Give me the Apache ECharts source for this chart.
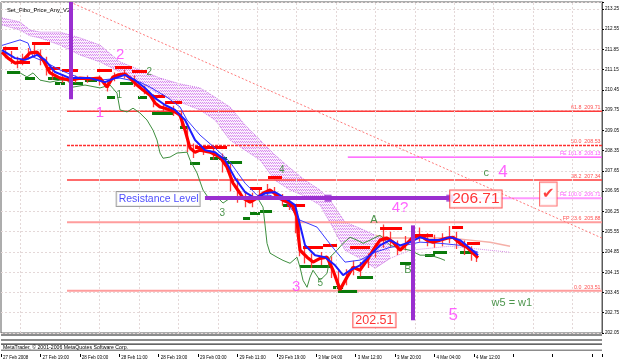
<!DOCTYPE html>
<html><head><meta charset="utf-8">
<script src="https://cdn.jsdelivr.net/npm/echarts@6/dist/echarts.min.js"></script>
<style>html,body{margin:0;padding:0;background:#fff}#c{width:625px;height:363px}</style>
</head><body><div id="c"></div>
<script>
// ---------- DATA (x = trading hours from 27 Feb 19:00, y = price) ----------
const xTickLabels = ["27 Feb 2008","27 Feb 19:00","28 Feb 03:00","28 Feb 11:00","28 Feb 19:00","29 Feb 03:00","29 Feb 11:00","29 Feb 19:00","3 Mar 04:00","3 Mar 12:00","3 Mar 20:00","4 Mar 04:00","4 Mar 12:00"];
const yTickStart = 202.05, yTickStep = 0.70, yTop = 213.49;
const xStart = -8, xStep = 8, xEnd = 114;

const pricePath = [[-7.8,211.76],[-6.58,211.55],[-5.16,211.38],[-4.14,211.41],[-3.13,211.55],[-2.11,211.73],[-0.69,211.76],[0.53,211.49],[1.95,211.04],[3.98,210.86],[6.01,210.79],[8.04,210.86],[10.07,210.83],[12.10,210.86],[13.52,210.55],[14.74,210.90],[15.75,210.97],[17.17,211.0],[18.19,210.86],[19.61,210.62],[20.83,210.45],[22.25,210.27],[23.27,210.0],[24.28,209.86],[25.30,209.82],[26.31,209.76],[27.33,209.69],[28.34,209.58],[29.36,209.06],[30.37,208.44],[31.39,208.30],[32.40,208.37],[34.43,208.30],[36.46,208.13],[37.88,207.78],[39.10,207.23],[40.52,206.88],[41.13,206.71],[42.55,206.57],[43.97,206.71],[45.19,206.88],[46.61,206.99],[48.03,206.81],[49.25,206.64],[50.67,206.54],[51.28,206.40],[52.09,206.05],[52.29,205.50],[52.70,204.91],[54.12,204.67],[55.34,204.50],[56.76,204.63],[58.18,204.67],[59.40,204.22],[60.82,203.55],[62.24,203.98],[63.46,204.32],[64.88,204.22],[66.30,204.57],[67.52,204.91],[68.94,205.26],[70.36,205.33],[71.58,205.19],[73.00,204.91],[74.42,205.15],[75.64,205.36],[77.06,205.43],[78.48,205.26],[79.70,205.19],[81.12,205.26],[82.54,205.33],[83.76,205.36],[85.18,205.15],[86.60,205.01],[87.82,204.81],[88.83,204.65]];
// bar ranges [time, high, low]
const barRanges = [[-7.2,211.95,211.55],[-6.0,211.80,211.35],[-4.8,211.60,211.20],[-3.6,211.70,211.30],[-2.4,211.90,211.50],[-1.2,212.00,211.60],[0,211.85,211.30],[1.2,211.60,210.95],[2.4,211.20,210.80],[4.5,211.0,210.7],[7,210.95,210.70],[9.5,210.95,210.70],[12,210.95,210.60],[13.5,210.75,210.40],[15,211.05,210.75],[17,211.15,210.85],[19,210.95,210.55],[21,210.60,210.30],[23,210.30,209.85],[25,210.00,209.70],[27,209.90,209.55],[28.5,209.75,209.20],[29.8,209.30,208.30],[31,208.60,208.10],[33,208.55,208.20],[35,208.45,208.05],[37,208.25,207.60],[38.5,207.90,206.95],[40,207.40,206.55],[41.5,206.95,206.40],[43,206.90,206.40],[44.5,207.05,206.65],[46,207.20,206.80],[47.5,207.10,206.65],[49,206.85,206.45],[50.5,206.75,206.30],[51.8,206.50,205.50],[52.5,205.80,204.70],[53.5,205.00,204.45],[55,204.80,204.30],[57,204.85,204.40],[59,204.70,203.95],[60.5,204.20,203.51],[62,204.25,203.70],[63.5,204.55,204.05],[65,204.50,204.00],[66.5,204.80,204.30],[68,205.15,204.65],[69.5,205.80,205.00],[71,205.55,205.00],[72.5,205.25,204.75],[74,205.40,204.90],[75.5,205.60,205.10],[77,205.70,205.20],[78.5,205.50,205.05],[80,205.45,205.00],[81.5,205.50,205.05],[83,205.75,205.15],[84.5,205.55,204.95],[86,205.25,204.75],[87.5,205.05,204.55],[88.5,204.85,204.50]];
const blueFast = [[-7.80,211.83],[-5.16,211.55],[-3.13,211.49],[-0.69,211.66],[0.93,211.49],[2.96,211.07],[6.01,210.86],[10.07,210.86],[13.11,210.72],[15.14,210.86],[17.17,210.97],[19.20,210.79],[21.23,210.52],[23.27,210.17],[25.30,209.93],[27.33,209.76],[29.36,209.41],[31.39,208.72],[33.42,208.37],[35.45,208.30],[37.48,208.03],[39.51,207.40],[41.54,206.92],[43.57,206.71],[45.60,206.88],[47.63,206.92],[49.66,206.71],[51.69,206.47],[52.70,205.78],[53.72,205.08],[55.75,204.74],[57.78,204.67],[59.81,204.39],[61.44,204.05],[62.86,204.22],[64.88,204.39],[66.91,204.74],[68.94,205.08],[70.97,205.26],[73.00,205.08],[75.03,205.19],[77.06,205.36],[79.09,205.26],[81.12,205.26],[83.15,205.36],[85.18,205.26],[87.21,204.98],[88.83,204.74]];
const blueSlow = [[-7.8,211.99],[-4.14,212.18],[-2.52,212.07],[-1.5,211.59],[0.93,211.42],[3.98,211.14],[8.04,210.86],[12.10,210.79],[16.16,210.86],[20.22,210.72],[22.25,210.55],[25.70,210.20],[28.34,209.86],[29.77,209.41],[32.40,208.89],[35.45,208.44],[38.49,207.96],[41.54,207.23],[43.97,206.81],[46.61,206.81],[50.06,206.54],[52.70,205.95],[56.15,205.71],[58.18,205.26],[59.81,204.91],[61.84,204.50],[64.88,204.57],[67.93,204.84],[70.97,205.01],[74.01,205.08],[77.06,205.19],[81.12,205.15],[85.18,205.08],[88.83,204.84]];
const chikou = [[-4.14,211.04],[-2.72,210.90],[-1.50,211.04],[-0.08,210.79],[1.95,210.72],[3.98,210.79],[5.40,210.79],[6.62,210.55],[9.05,210.62],[12.10,210.52],[14.13,210.62],[15.55,210.34],[16.16,209.76],[17.58,209.69],[18.80,209.82],[20.22,209.65],[21.64,209.41],[22.86,209.06],[23.67,208.72],[24.28,208.27],[24.89,208.09],[26.31,208.13],[27.73,208.27],[29.77,208.30],[30.37,208.03],[31.79,207.58],[33.01,206.99],[34.43,206.64],[35.85,206.75],[37.07,206.54],[38.49,206.71],[39.91,206.75],[41.13,206.71],[43.97,206.75],[45.19,206.40],[45.60,205.78],[46.00,205.15],[46.61,204.81],[48.03,204.67],[49.25,204.56],[50.67,204.46],[52.09,204.67],[52.70,204.32],[53.31,203.87],[54.12,203.63],[54.73,203.98],[55.34,204.22],[56.76,203.87],[58.18,204.11],[58.79,204.67],[60.21,204.91],[61.44,205.15],[62.86,205.36],[64.28,205.26],[65.50,205.15],[66.91,205.26],[68.94,205.43],[70.97,205.08],[73.00,204.98],[75.03,204.91],[77.06,204.74],[79.09,204.74],[81.12,204.63],[82.13,204.56]];
const cloudX = [-7.80,-4.14,-2.11,-0.08,3.98,8.04,12.10,16.16,20.22,24.28,28.34,32.40,35.45,38.49,41.54,44.58,47.63,50.67,53.72,56.76,58.79,61.84,64.88,67.93,70.97];
const cloudTop = [212.94,212.80,212.52,212.45,212.45,212.25,212.00,211.42,211.14,210.86,210.66,210.52,210.20,209.86,209.24,208.72,208.20,207.75,207.33,206.99,206.64,205.88,205.67,205.43,205.33];
const cloudBottom = [212.70,212.52,212.32,212.25,212.00,211.66,211.42,211.07,210.72,210.27,210.03,209.76,209.41,208.72,208.37,208.03,207.33,206.99,206.78,206.47,205.88,204.91,204.63,204.29,204.63];
// leading spans after the cloud thins out
const spanAX = [67.93,70.97,75.03,79.09,83.15,87.21,91.27,95.33];
const spanA = [205.43,205.33,205.33,205.33,205.33,205.26,205.19,205.05];
const spanB = [204.29,204.63,204.91,204.98,205.05,204.98,204.91,204.84];
// fractal levels [from, to, price]
const redLevels = [[-7.59,-4.55,211.90],[-1.71,1.95,212.07],[-4.55,-2.11,211.42],[1.34,3.98,211.21],[4.38,7.63,211.14],[11.49,14.53,211.14],[15.14,18.59,211.24],[18.59,21.64,211.10],[22.25,25.30,210.24],[25.30,28.75,210.03],[31.39,35.04,208.47],[35.04,37.88,208.47],[42.55,44.99,207.06],[46.20,49.04,207.44],[50.06,53.72,206.47],[53.31,57.37,205.02],[57.37,60.21,205.08],[62.86,66.91,205.02],[68.94,73.41,205.67],[75.64,79.70,205.43],[83.56,85.79,205.71],[86.60,89.24,205.15]];
const greenLevels = [[-6.78,-4.14,211.07],[-3.13,-1.10,210.86],[1.54,4.38,210.86],[2.96,4.99,210.69],[6.41,8.65,210.69],[9.05,11.49,210.79],[13.52,15.14,210.20],[16.16,18.80,210.69],[19.81,21.64,210.20],[22.66,26.92,209.65],[28.34,29.77,209.17],[30.37,32.40,207.92],[34.43,37.88,208.09],[37.07,40.93,207.96],[41.13,42.55,206.02],[42.55,44.58,206.19],[44.58,47.02,206.26],[49.25,50.67,206.47],[52.70,56.15,204.36],[56.15,58.79,204.36],[59.40,61.44,203.63],[60.41,64.28,203.51],[64.28,67.52,203.98],[73.00,75.64,204.46],[78.07,80.11,204.74],[79.70,82.54,204.84],[85.18,87.82,204.84]];
const fiboNames = ["61.8","50.0","FE 161.8","38.2","FE 100.0","FP 23.6","0.0"];
const fiboValues = [209.71,208.53,208.13,207.34,206.71,205.88,203.51];
const fiboFrom = [5.4,5.4,62.4,5.4,62.4,5.4,5.4];
const trendLine = [[6.0,213.49],[114,205.33]];
const resistanceLine = [[33.4,206.71],[83.1,206.71]];
const resistanceHandles = [[58.4,206.71],[83.1,206.71]];
const verticalMarks = [[[6.2,213.49],[6.2,210.13]],[[75.6,205.77],[75.6,202.49]]];
const waveNames = ["1","2","3","4","4?","5"];
const wavePos = [[12.1,209.65],[16.2,211.66],[51.9,203.63],[93.9,207.61],[73.0,206.36],[83.8,202.66]];
const subNames = ["1","2","3","4","5","A","B","c","w5 = w1"];
const subPos = [[16.0,210.27],[22.1,211.07],[36.9,206.19],[49.0,207.68],[56.8,203.77],[67.7,205.95],[74.6,204.22],[90.5,207.58],[95.7,203.08]];
const boxTexts = ["Resistance Level","206.71","202.51"];
const boxPos = [[23.9,206.68],[88.4,206.68],[67.8,202.49]];
const checkPos = [103.1,206.85];
const lastPrice = 204.65;

// ---------- BUILD ----------
const B = yTickStart;
const sh = p => [p[0], +(p[1]-B).toFixed(4)];
const shArr = a => a.map(sh);
const GRID = '#e4d8d8';
const FONT = 'Liberation Sans, Arial';

// hatch pattern for the cloud
const pat = document.createElement('canvas');
pat.width = 4; pat.height = 3;
(function(){
  const g = pat.getContext('2d');
  g.fillStyle = 'rgba(246,226,250,0.6)'; g.fillRect(0,0,4,3);
  g.fillStyle = '#d98cf0';
  g.fillRect(0,0,1,1); g.fillRect(1,1,1,1); g.fillRect(2,0,1,1); g.fillRect(3,1,1,1);
})();

const fiboStyle = [
  {c:'#ff3a3a',w:1.5,t:'solid'},
  {c:'#ff3030',w:1.3,t:[3,1]},
  {c:'#ff44ff',w:1.3,t:'solid'},
  {c:'#ff3a3a',w:1.5,t:'solid'},
  {c:'#ff99ff',w:2,t:'solid'},
  {c:'#ff9d9d',w:2,t:'solid'},
  {c:'#ff9d9d',w:2,t:'solid'}
];
const fiboLabelColor = ['#ff2020','#ff2020','#ff30ff','#ff2020','#ff30ff','#ff2020','#ff2020'];

const series = [];
// vertical grid lines (half-way between time labels)
const vgrid = [];
for (let h = xStart + xStep/2; h < xEnd; h += xStep) vgrid.push({xAxis: h});
series.push({type:'line', data:[], silent:true, z:0,
  markLine:{silent:true, symbol:['none','none'], label:{show:false}, lineStyle:{color:GRID, type:[2,2], width:1}, data:vgrid}});
// cloud polygon
series.push({type:'custom', silent:true, z:1, clip:true, data:[[cloudX[0], cloudTop[0]-B]],
  renderItem: function(params, api){
    const pts = [];
    cloudX.forEach((x,i)=>pts.push(api.coord([x, cloudTop[i]-B])));
    for (let i = cloudX.length-1; i >= 0; i--) pts.push(api.coord([cloudX[i], cloudBottom[i]-B]));
    return {type:'polygon', shape:{points:pts}, style:{fill:{image:pat, repeat:'repeat'}, stroke:null}};
  }});
series.push({type:'line', data: cloudX.map((x,i)=>[x, cloudBottom[i]-B]), showSymbol:false, silent:true, z:1,
  lineStyle:{color:'#cc7ae6', width:1, type:'dotted'}});
series.push({type:'line', data: cloudX.map((x,i)=>[x, cloudTop[i]-B]), showSymbol:false, silent:true, z:1,
  lineStyle:{color:'#cc7ae6', width:1, type:'dotted'}});
series.push({type:'line', data: spanAX.map((x,i)=>[x, spanA[i]-B]), showSymbol:false, silent:true, z:1,
  lineStyle:{color:'#f5b0a8', width:1.5}});
series.push({type:'line', data: spanAX.map((x,i)=>[x, spanB[i]-B]), showSymbol:false, silent:true, z:1,
  lineStyle:{color:'#d890e8', width:1, type:'dotted'}});
// fibo lines
fiboValues.forEach((v,i)=>{
  series.push({type:'line', silent:true, z:2, showSymbol:false,
    data:[[fiboFrom[i], v-B],[xEnd, v-B]],
    lineStyle:{color:fiboStyle[i].c, width:fiboStyle[i].w, type:fiboStyle[i].t}});
});
series.push({type:'scatter', symbolSize:0, silent:true, z:3,
  data: fiboValues.map((v,i)=>({value:[xEnd-0.3, v-B], name: fiboNames[i]+'  '+v.toFixed(2), label:{color: fiboLabelColor[i]}})),
  label:{show:true, position:'left', distance:0, offset:[0,-3.5], fontSize:5.3, fontFamily:FONT, formatter: p=>p.name}});
// trend line
series.push({type:'line', silent:true, z:2, showSymbol:false, data: shArr(trendLine),
  lineStyle:{color:'#ff7a7a', width:1, type:[2,2]}});
// fractal levels
series.push({type:'lines', coordinateSystem:'cartesian2d', silent:true, z:4,
  data: greenLevels.map(s=>({coords:[[s[0],s[2]-B],[s[1],s[2]-B]]})), lineStyle:{color:'#0a7a0a', width:3, opacity:1}});
// chikou
series.push({type:'line', data: shArr(chikou), showSymbol:false, silent:true, z:5, lineStyle:{color:'#3f8f3f', width:1}});
// bar ranges
series.push({type:'lines', coordinateSystem:'cartesian2d', silent:true, z:5,
  data: barRanges.map(r=>({coords:[[r[0],r[1]-B],[r[0],r[2]-B]]})), lineStyle:{color:'#ff2a2a', width:1.3, opacity:0.9}});
series.push({type:'lines', coordinateSystem:'cartesian2d', silent:true, z:6,
  data: redLevels.map(s=>({coords:[[s[0],s[2]-B],[s[1],s[2]-B]]})), lineStyle:{color:'#ff0000', width:3, opacity:1}});
// slow blue
series.push({type:'line', data: shArr(blueSlow), showSymbol:false, silent:true, z:6, lineStyle:{color:'#3b3bff', width:1}});
// price
series.push({type:'line', data: shArr(pricePath), showSymbol:false, silent:true, z:6, lineStyle:{color:'#ff0000', width:3.2},
  markLine:{silent:true, symbol:['none','none'], lineStyle:{opacity:0}, data:[{yAxis: lastPrice-B}],
    label:{show:true, position:'end', distance:1, formatter: lastPrice.toFixed(2), color:'#fff', backgroundColor:'#000', fontSize:5, padding:[2,2,1,2], fontFamily:FONT}}});
// fast blue
series.push({type:'line', data: shArr(blueFast), showSymbol:false, silent:true, z:7, lineStyle:{color:'#1d1dff', width:2}});
// purple marks
series.push({type:'lines', coordinateSystem:'cartesian2d', silent:true, z:8,
  data:[{coords: shArr(resistanceLine)}].concat(verticalMarks.map(v=>({coords: shArr(v)}))),
  lineStyle:{color:'#9a2fd0', width:4, opacity:1}});
series.push({type:'scatter', silent:true, z:9, symbol:'rect', symbolSize:7, itemStyle:{color:'#9a2fd0'}, data: shArr(resistanceHandles)});
// wave labels
const waveSize = [15,15,15,17,15,17];
series.push({type:'scatter', symbolSize:0, silent:true, z:10,
  data: wavePos.map((p,i)=>({value: sh(p), name: waveNames[i], label:{fontSize: waveSize[i]}})),
  label:{show:true, position:'inside', formatter:p=>p.name, color:'#ff3dff', fontFamily:FONT}});
series.push({type:'scatter', symbolSize:0, silent:true, z:10,
  data: subPos.map((p,i)=>({value: sh(p), name: subNames[i], label:{fontSize: i>=5?11:10}})),
  label:{show:true, position:'inside', formatter:p=>p.name, color:'#1f7a1f', fontFamily:FONT}});
// boxes
const boxStyle = [
  {fs:10.5, c:'#1a1aff', b:'#8a8a8a', pad:[2,1,1,2]},
  {fs:15.5, c:'#ff0000', b:'#ff3030', pad:[1,2,0,2]},
  {fs:12.5, c:'#ff0000', b:'#ff3030', pad:[1,2,0,2]}
];
series.push({type:'scatter', symbolSize:0, silent:true, z:11,
  data: boxPos.map((p,i)=>({value: sh(p), name: boxTexts[i], label:{fontSize:boxStyle[i].fs, color:boxStyle[i].c, borderColor:boxStyle[i].b, padding:boxStyle[i].pad}})),
  label:{show:true, position:'inside', formatter:p=>p.name, backgroundColor:'#fff', borderWidth:1, fontFamily:FONT}});
series.push({type:'scatter', symbolSize:0, silent:true, z:11, data:[sh(checkPos)],
  label:{show:true, position:'inside', formatter:'✔', color:'#ff1010', fontSize:15, backgroundColor:'#fff', borderColor:'#ff5050', borderWidth:1, padding:[4,2,4,2], fontFamily:'DejaVu Sans'}});

const chart = echarts.init(document.getElementById('c'), null, {renderer:'canvas'});
chart.setOption({
  animation:false,
  backgroundColor:'#fff',
  title:{text:'Set_Fibo_Price_Any_V2', left:2, top:2, textStyle:{fontSize:5.8, fontWeight:'normal', color:'#000', fontFamily:FONT}},
  grid:{left:1, right:23, top:2, bottom:30, show:true, borderColor:'#5a5a5a', borderWidth:1, containLabel:false},
  xAxis:{type:'value', min:xStart, max:xEnd, interval:xStep, offset:21,
    axisLine:{show:false, onZero:false}, axisTick:{show:true, length:3, lineStyle:{color:'#000'}},
    splitLine:{show:false},
    axisLabel:{fontSize:4.5, color:'#000', margin:1, align:'left', padding:[0,0,0,2], fontFamily:FONT,
      formatter: v=>{const k=(v-xStart)/xStep; return (Math.abs(k-Math.round(k))<1e-6 && Math.round(k)<xTickLabels.length)? xTickLabels[Math.round(k)] : '';}}},
  yAxis:{type:'value', position:'right', min:0, max:+(yTop-B).toFixed(4), interval:yTickStep,
    axisLine:{show:true, onZero:false, lineStyle:{color:'#5a5a5a'}}, axisTick:{show:true, length:2, lineStyle:{color:'#000'}},
    splitLine:{show:true, lineStyle:{color:GRID, type:[2,2]}},
    axisLabel:{fontSize:4.6, color:'#000', margin:3, fontFamily:FONT,
      formatter: v=>{const k=v/yTickStep; return Math.abs(k-Math.round(k))<1e-6 ? (v+B).toFixed(2) : '';}}},
  graphic:[
    {type:'rect', shape:{x:1,y:334,width:601,height:2}, style:{fill:'#8c8c8c'}, silent:true},
    {type:'rect', shape:{x:1,y:339,width:601,height:2}, style:{fill:'#8c8c8c'}, silent:true},
    {type:'rect', shape:{x:1,y:343.5,width:601,height:1.2}, style:{fill:'#333'}, silent:true},
    {type:'rect', shape:{x:1,y:349.5,width:601,height:1.5}, style:{fill:'#8c8c8c'}, silent:true},
    {type:'text', x:3, y:344.8, style:{text:'MetaTrader, © 2001-2006 MetaQuotes Software Corp.', fontSize:5.2, fill:'#000', fontFamily:FONT}, silent:true}
  ],
  series
});
</script></body></html>
